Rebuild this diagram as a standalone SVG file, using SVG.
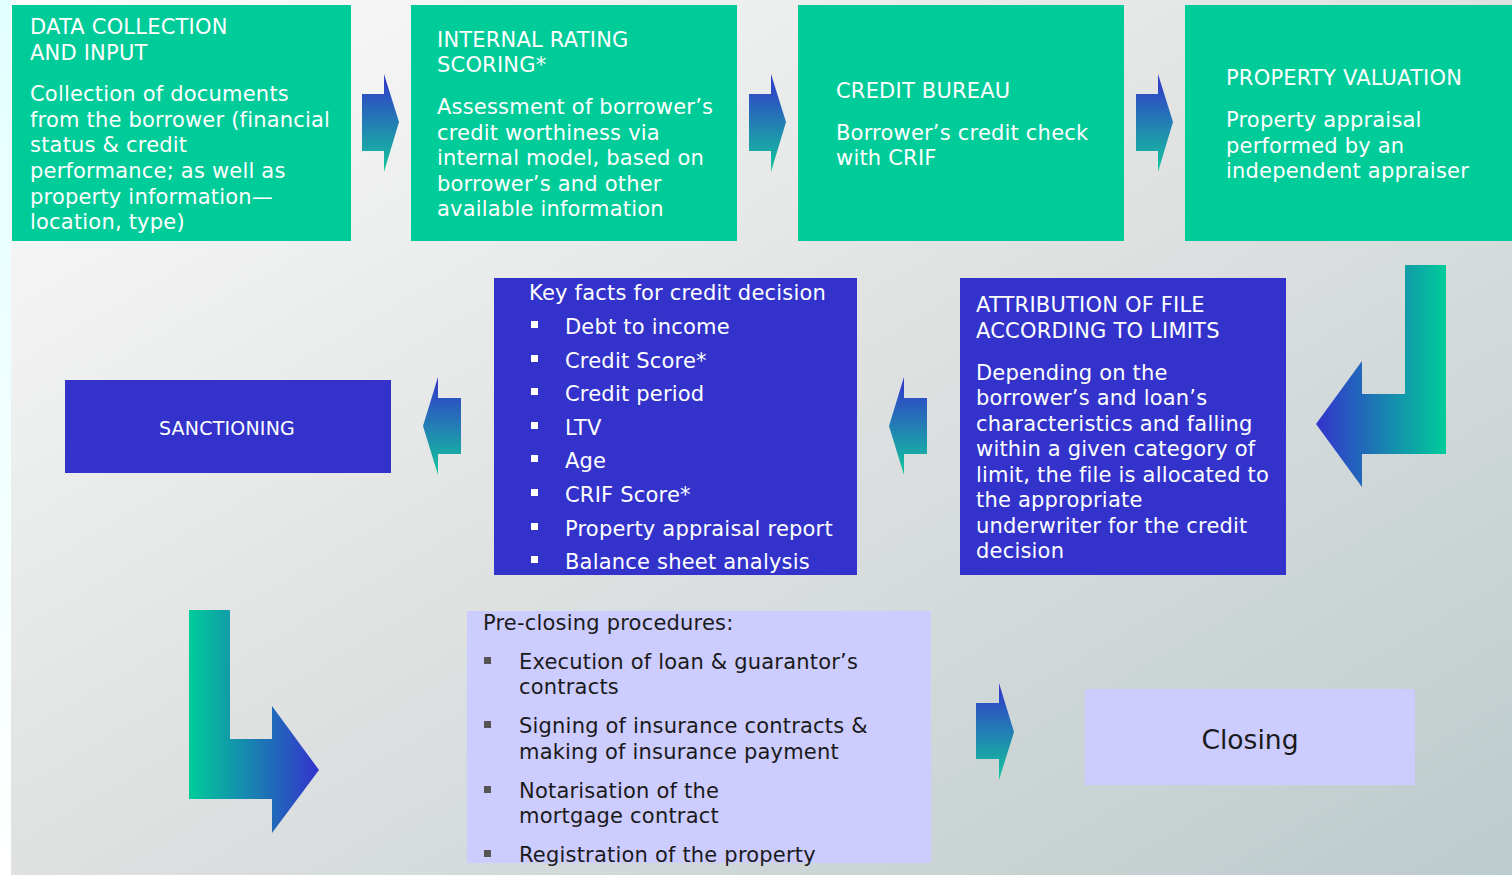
<svg xmlns="http://www.w3.org/2000/svg" width="1512" height="875" viewBox="0 0 1512 875">
  <defs>
    <linearGradient id="panelBg" x1="0" y1="0" x2="1" y2="1">
      <stop offset="0" stop-color="#fcfcfc"/>
      <stop offset="0.5" stop-color="#dfe1e1"/>
      <stop offset="1" stop-color="#bccbcc"/>
    </linearGradient>
    <linearGradient id="edgeBg" x1="0" y1="0" x2="0" y2="1">
      <stop offset="0" stop-color="#e2ffff"/>
      <stop offset="1" stop-color="#ffffff"/>
    </linearGradient>
    <!-- small block arrows: blue at the top fading to teal -->
    <linearGradient id="vGrad" x1="0" y1="0" x2="0" y2="1">
      <stop offset="0" stop-color="#3333cc"/>
      <stop offset="1" stop-color="#12c99c"/>
    </linearGradient>
    <!-- bent arrows: green to blue across -->
    <linearGradient id="hGradL" x1="0" y1="0" x2="1" y2="0">
      <stop offset="0" stop-color="#3333cc"/>
      <stop offset="1" stop-color="#00cc99"/>
    </linearGradient>
    <linearGradient id="hGradR" x1="0" y1="0" x2="1" y2="0">
      <stop offset="0" stop-color="#00cc99"/>
      <stop offset="1" stop-color="#3333cc"/>
    </linearGradient>
    <style>
      .t{font-family:"DejaVu Sans",Verdana,sans-serif;font-size:21px;letter-spacing:0.2px;fill:#ffffff;transform:translateY(1px)}
      .dk{fill:#1a1a1a}
      .green{fill:#00cc99}
      .blue{fill:#3333cc}
      .lav{fill:#ccccff}
      .bw{fill:#ffffff}
      .bg{fill:#555555}
    </style>
  </defs>

  <!-- backdrop -->
  <rect x="0" y="0" width="1512" height="875" fill="url(#edgeBg)"/>
  <rect x="11" y="0" width="1501" height="875" fill="url(#panelBg)"/>

  <!-- connectors -->
  <g id="connectors">
    <polygon points="362,94 384,94 384,74 399,122 384,172 384,151 362,151" fill="url(#vGrad)"/>
    <polygon points="749,94 771,94 771,74 786,122 771,172 771,151 749,151" fill="url(#vGrad)"/>
    <polygon points="1136,94 1158,94 1158,74 1173,122 1158,172 1158,151 1136,151" fill="url(#vGrad)"/>
    <polygon points="1405,265 1446,265 1446,454 1362,454 1362,487 1316,424 1362,361 1362,394 1405,394" fill="url(#hGradL)"/>
    <polygon points="927,398 904,398 904,377 889,426 904,475 904,454 927,454" fill="url(#vGrad)"/>
    <polygon points="461,398 438,398 438,377 423,426 438,475 438,454 461,454" fill="url(#vGrad)"/>
    <polygon points="189,610 230,610 230,739 272,739 272,706 319,770 272,833 272,799 189,799" fill="url(#hGradR)"/>
    <polygon points="976,703 999,703 999,683 1014,732 999,780 999,759 976,759" fill="url(#vGrad)"/>
  </g>

  <g id="data-collection">
    <rect class="green" x="12" y="5" width="339" height="236"/>
    <text class="t" x="30" y="33">DATA COLLECTION</text>
    <text class="t" x="30" y="59">AND INPUT</text>
    <text class="t" x="30" y="100">Collection of documents</text>
    <text class="t" x="30" y="126">from the borrower (financial</text>
    <text class="t" x="30" y="151">status &amp; credit</text>
    <text class="t" x="30" y="177">performance; as well as</text>
    <text class="t" x="30" y="203">property information—</text>
    <text class="t" x="30" y="228">location, type)</text>
  </g>

  <g id="internal-rating">
    <rect class="green" x="411" y="5" width="326" height="236"/>
    <text class="t" x="437" y="46">INTERNAL RATING</text>
    <text class="t" x="437" y="71">SCORING*</text>
    <text class="t" x="437" y="113">Assessment of borrower’s</text>
    <text class="t" x="437" y="139">credit worthiness via</text>
    <text class="t" x="437" y="164">internal model, based on</text>
    <text class="t" x="437" y="190">borrower’s and other</text>
    <text class="t" x="437" y="215">available information</text>
  </g>

  <g id="credit-bureau">
    <rect class="green" x="798" y="5" width="326" height="236"/>
    <text class="t" x="836" y="97">CREDIT BUREAU</text>
    <text class="t" x="836" y="139">Borrower’s credit check</text>
    <text class="t" x="836" y="164">with CRIF</text>
  </g>

  <g id="property-valuation">
    <rect class="green" x="1185" y="5" width="327" height="236"/>
    <text class="t" x="1226" y="84">PROPERTY VALUATION</text>
    <text class="t" x="1226" y="126">Property appraisal</text>
    <text class="t" x="1226" y="152">performed by an</text>
    <text class="t" x="1226" y="177">independent appraiser</text>
  </g>

  <g id="attribution">
    <rect class="blue" x="960" y="278" width="326" height="297"/>
    <text class="t" x="976" y="311">ATTRIBUTION OF FILE</text>
    <text class="t" x="976" y="337">ACCORDING TO LIMITS</text>
    <text class="t" x="976" y="379">Depending on the</text>
    <text class="t" x="976" y="404">borrower’s and loan’s</text>
    <text class="t" x="976" y="430">characteristics and falling</text>
    <text class="t" x="976" y="455">within a given category of</text>
    <text class="t" x="976" y="481">limit, the file is allocated to</text>
    <text class="t" x="976" y="506">the appropriate</text>
    <text class="t" x="976" y="532">underwriter for the credit</text>
    <text class="t" x="976" y="557">decision</text>
  </g>

  <g id="key-facts">
    <rect class="blue" x="494" y="278" width="363" height="297"/>
    <text class="t" x="529" y="299">Key facts for credit decision</text>
    <rect class="bw" x="531" y="321" width="7" height="7"/>
    <text class="t" x="565" y="333">Debt to income</text>
    <rect class="bw" x="531" y="355" width="7" height="7"/>
    <text class="t" x="565" y="367">Credit Score*</text>
    <rect class="bw" x="531" y="388" width="7" height="7"/>
    <text class="t" x="565" y="400">Credit period</text>
    <rect class="bw" x="531" y="422" width="7" height="7"/>
    <text class="t" x="565" y="434">LTV</text>
    <rect class="bw" x="531" y="455" width="7" height="7"/>
    <text class="t" x="565" y="467">Age</text>
    <rect class="bw" x="531" y="489" width="7" height="7"/>
    <text class="t" x="565" y="501">CRIF Score*</text>
    <rect class="bw" x="531" y="523" width="7" height="7"/>
    <text class="t" x="565" y="535">Property appraisal report</text>
    <rect class="bw" x="531" y="556" width="7" height="7"/>
    <text class="t" x="565" y="568">Balance sheet analysis</text>
  </g>

  <g id="sanctioning">
    <rect class="blue" x="65" y="380" width="326" height="93"/>
    <text class="t" x="227" y="434" text-anchor="middle" style="font-size:19px">SANCTIONING</text>
  </g>

  <g id="pre-closing">
    <rect class="lav" x="467" y="611" width="464" height="252"/>
    <text class="t dk" x="483" y="629">Pre-closing procedures:</text>
    <rect class="bg" x="484" y="657" width="7" height="7"/>
    <text class="t dk" x="519" y="668">Execution of loan &amp; guarantor’s</text>
    <text class="t dk" x="519" y="693">contracts</text>
    <rect class="bg" x="484" y="721" width="7" height="7"/>
    <text class="t dk" x="519" y="732">Signing of insurance contracts &amp;</text>
    <text class="t dk" x="519" y="758">making of insurance payment</text>
    <rect class="bg" x="484" y="786" width="7" height="7"/>
    <text class="t dk" x="519" y="797">Notarisation of the</text>
    <text class="t dk" x="519" y="822">mortgage contract</text>
    <rect class="bg" x="484" y="850" width="7" height="7"/>
    <text class="t dk" x="519" y="861">Registration of the property</text>
  </g>

  <g id="closing">
    <rect class="lav" x="1085" y="689" width="330" height="96"/>
    <text class="t dk" x="1250" y="748" text-anchor="middle" style="font-size:26.6px;letter-spacing:0">Closing</text>
  </g>
</svg>
